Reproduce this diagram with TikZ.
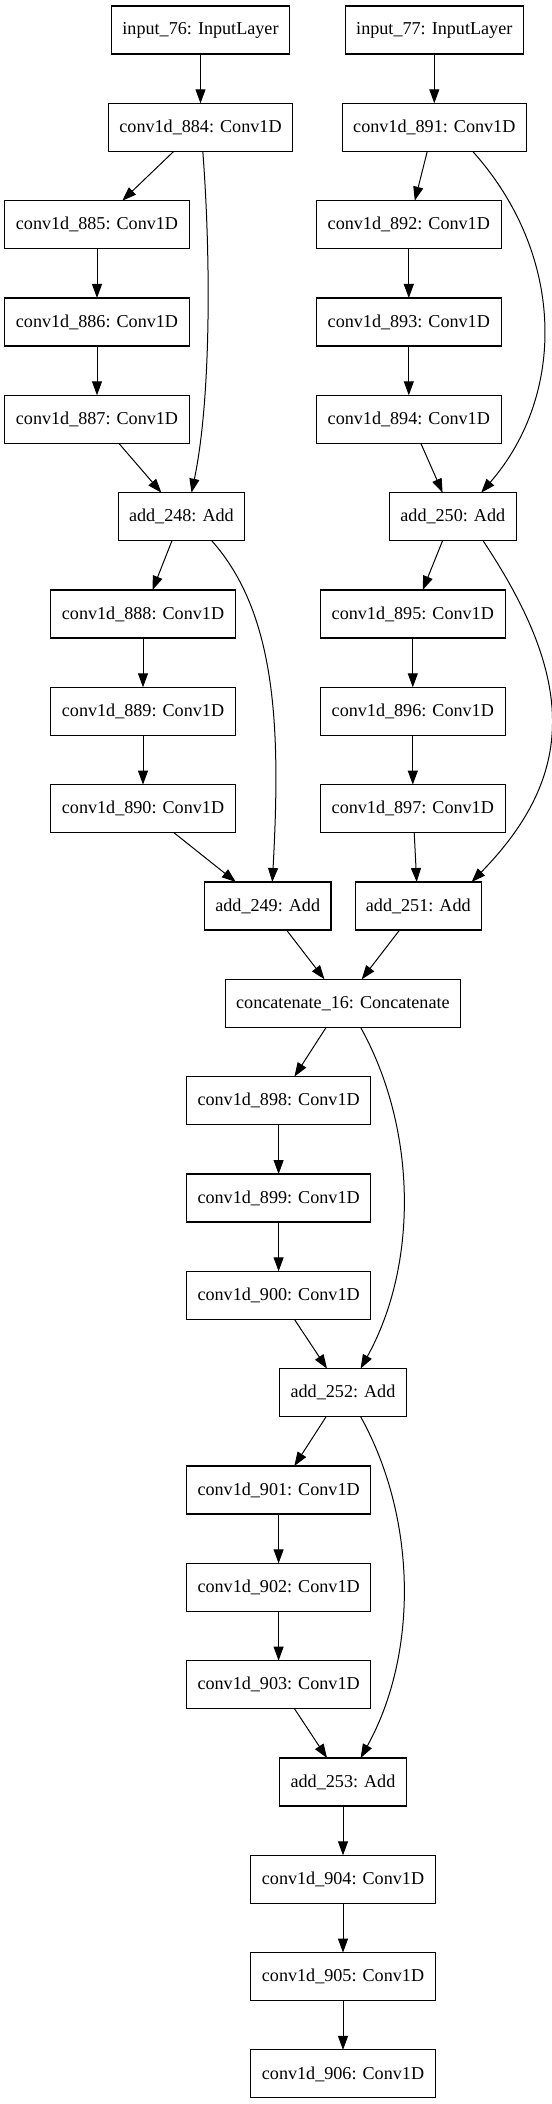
\documentclass[tikz,border=0pt]{standalone}
\usepackage{fontspec}
\setmainfont{Liberation Serif}
\usetikzlibrary{arrows.meta,calc}
\tikzset{
  layer/.style={draw=black,line width=0.8pt,rectangle,inner sep=0pt,outer sep=0pt,
                minimum height=36pt,font=\fontsize{13.6}{16}\selectfont},
  convbox/.style={layer,minimum width=138.4pt},
  inbox/.style={layer,minimum width=133.1pt},
  addbox/.style={layer,minimum width=94.9pt},
  catbox/.style={layer,minimum width=176.6pt},
  edge/.style={-{Triangle[length=10.5pt,width=7.5pt]},line width=0.75pt},
}
\begin{document}
\begin{tikzpicture}[x=.75pt,y=-.75pt]
    \useasboundingbox (0,0) rectangle (552,2104);
    % --- inputs ---
    \node[inbox] (in76) at (200.5,30) {input\_76: InputLayer};
    \node[inbox] (in77) at (434.3,30) {input\_77: InputLayer};
    \node[convbox] (c884) at (200.5,127.3) {conv1d\_884: Conv1D};
    \node[convbox] (c891) at (434.3,127.3) {conv1d\_891: Conv1D};

    % --- first residual blocks ---
    \foreach \n/\y in {885/224.7,886/322,887/419.3}{
      \node[convbox] (c\n) at (97,\y) {conv1d\_\n: Conv1D};
    }
    \foreach \n/\y in {892/224.7,893/322,894/419.3}{
      \node[convbox] (c\n) at (408.8,\y) {conv1d\_\n: Conv1D};
    }
    \node[addbox] (add248) at (181.4,516.7) {add\_248: Add};
    \node[addbox] (add250) at (452.8,516.7) {add\_250: Add};

    % --- second residual blocks ---
    \foreach \n/\y in {888/614,889/711.3,890/808.6}{
      \node[convbox] (c\n) at (143,\y) {conv1d\_\n: Conv1D};
    }
    \foreach \n/\y in {895/614,896/711.3,897/808.6}{
      \node[convbox] (c\n) at (412.8,\y) {conv1d\_\n: Conv1D};
    }
    \node[addbox] (add249) at (267.7,906) {add\_249: Add};
    \node[addbox] (add251) at (418.3,906) {add\_251: Add};
    \node[catbox] (cat16) at (342.9,1003.3) {concatenate\_16: Concatenate};

    % --- merged trunk ---
    \foreach \n/\y in {898/1100.6,899/1198,900/1295.3,901/1490,902/1587.3,903/1684.6}{
      \node[convbox] (c\n) at (278.6,\y) {conv1d\_\n: Conv1D};
    }
    \node[addbox] (add252) at (343,1392.6) {add\_252: Add};
    \node[addbox] (add253) at (343,1782) {add\_253: Add};
    \foreach \n/\y in {904/1879.3,905/1976.6,906/2073.9}{
      \node[convbox] (c\n) at (343,\y) {conv1d\_\n: Conv1D};
    }

    % --- straight edges ---
    \foreach \a/\b in {in76/c884,in77/c891,c885/c886,c886/c887,c892/c893,c893/c894,
                       c888/c889,c889/c890,c895/c896,c896/c897,c898/c899,c899/c900,
                       c901/c902,c902/c903,add253/c904,c904/c905,c905/c906}{
      \draw[edge] (\a.south) -- (\b.north);
    }
    \draw[edge] ($(c884.south)+(-26.7,0)$) -- ($(c885.north)+(25.3,0)$);
    \draw[edge] ($(c887.south)+(21.8,0)$) -- ($(add248.north)+(-20,0)$);
    \draw[edge] ($(c891.south)+(-7,0)$) -- ($(c892.north)+(6,0)$);
    \draw[edge] ($(c894.south)+(12,0)$) -- ($(add250.north)+(-10.2,0)$);
    \draw[edge] ($(add248.south)+(-9.4,0)$) -- ($(c888.north)+(9.5,0)$);
    \draw[edge] ($(c890.south)+(30.8,0)$) -- ($(add249.north)+(-31.9,0)$);
    \draw[edge] ($(add250.south)+(-10.2,0)$) -- ($(c895.north)+(9.9,0)$);
    \draw[edge] ($(c897.south)+(1.4,0)$) -- ($(add251.north)+(-1.6,0)$);
    \draw[edge] ($(add249.south)+(18.8,0)$) -- ($(cat16.north)+(-18.4,0)$);
    \draw[edge] ($(add251.south)+(-18.7,0)$) -- ($(cat16.north)+(18.8,0)$);
    \draw[edge] ($(cat16.south)+(-16.7,0)$) -- ($(c898.north)+(15.8,0)$);
    \draw[edge] ($(c900.south)+(15.8,0)$) -- ($(add252.north)+(-16,0)$);
    \draw[edge] ($(add252.south)+(-16.8,0)$) -- ($(c901.north)+(15.7,0)$);
    \draw[edge] ($(c903.south)+(15.8,0)$) -- ($(add253.north)+(-16,0)$);

    % --- skip connections ---
    \draw[edge] ($(c884.south)+(2.3,0)$) .. controls +(8.2,108) and +(19.5,-92.6) .. ($(add248.north)+(10.1,0)$);
    \draw[edge] ($(c891.south)+(38.3,0)$) .. controls +(93.3,104) and +(84.8,-97.6) .. ($(add250.north)+(28.4,0)$);
    \draw[edge] ($(add248.south)+(30.3,0)$) .. controls +(66,74) and +(8.2,-150) .. ($(add249.north)+(4.6,0)$);
    \draw[edge] ($(add250.south)+(30.2,0)$) .. controls +(93,139.4) and +(104.4,-107) .. ($(add251.north)+(53.3,0)$);
    \draw[edge] ($(cat16.south)+(17.7,0)$) .. controls +(57.2,103.2) and +(57.2,-103) .. ($(add252.north)+(17.6,0)$);
    \draw[edge] ($(add252.south)+(17.6,0)$) .. controls +(57.2,103.2) and +(57.2,-103) .. ($(add253.north)+(17.6,0)$);
  \end{tikzpicture}
\end{document}
